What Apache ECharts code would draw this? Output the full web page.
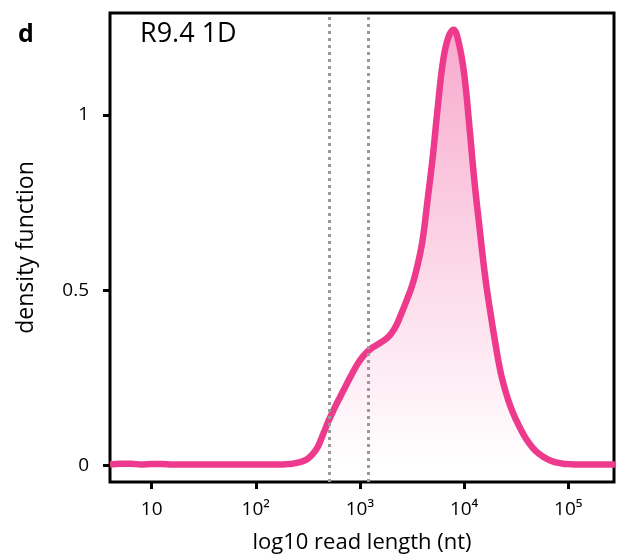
<!DOCTYPE html>
<html><head><meta charset="utf-8">
<script src="https://cdn.jsdelivr.net/npm/echarts@6/dist/echarts.min.js"></script>
<style>html,body{margin:0;padding:0;background:#fff}#c{width:619px;height:554px}</style>
</head><body><div id="c"></div>
<script>
// log10 read length (nt) and density values
const logLength = [0.6,0.7,0.8,0.9,1.0,1.1,1.2,1.3,1.4,1.5,1.6,1.7,1.8,1.9,2.0,2.1,2.2,2.25,
  2.30,2.35,2.40,2.45,2.50,2.55,2.60,2.65,2.70,2.75,2.80,2.85,2.90,2.95,3.00,3.05,3.10,3.15,3.20,3.25,
  3.30,3.35,3.40,3.45,3.50,3.55,3.60,3.65,3.70,3.75,3.80,3.85,3.90,3.95,4.00,4.05,4.10,4.15,4.20,4.25,
  4.30,4.35,4.40,4.45,4.50,4.55,4.60,4.65,4.70,4.75,4.80,4.85,4.90,4.95,5.0,5.1,5.2,5.3,5.45];
const density = [0.003,0.005,0.005,0.003,0.004,0.004,0.003,0.003,0.003,0.003,0.003,0.003,0.003,0.003,0.003,0.003,0.003,0.003,
  0.004,0.005,0.008,0.012,0.020,0.034,0.056,0.092,0.128,0.160,0.190,0.219,0.248,0.276,0.300,0.318,0.332,0.342,0.351,0.361,
  0.376,0.400,0.435,0.472,0.512,0.567,0.640,0.758,0.882,1.030,1.157,1.222,1.243,1.205,1.120,0.972,0.810,0.675,0.545,0.442,
  0.350,0.268,0.210,0.165,0.130,0.100,0.074,0.054,0.038,0.027,0.018,0.012,0.008,0.005,0.004,0.003,0.003,0.003,0.003];
const cutoffs   = [2.707, 3.079];
const xTicks = [1,2,3,4,5];
const xTickLabels = ['10','10²','10³','10⁴','10⁵'];
const yTicks = [0,0.5,1];
const yTickLabels = ['0','0.5','1'];

const FONT = '"Open Sans", Lato, sans-serif';
const chart = echarts.init(document.getElementById('c'), null, {renderer:'canvas'});
chart.setOption({
  animation:false,
  backgroundColor:'#fff',
  grid:{left:110,top:13,right:5,bottom:72,show:true,borderColor:'#000',borderWidth:3,backgroundColor:'transparent',
        containLabel:false,outerBoundsMode:'none'},
  graphic:[
    {type:'text',left:18,top:22,style:{text:'d',fontSize:25,fontWeight:'bold',fontFamily:FONT,fill:'#000'}},
    {type:'text',left:140,top:21,style:{text:'R9.4 1D',fontSize:27,fontFamily:FONT,fill:'#000'}}
  ],
  xAxis:{
    type:'value',min:0.6,max:5.44,
    name:'log10 read length (nt)',nameLocation:'middle',nameGap:50,
    nameTextStyle:{fontSize:22,fontFamily:FONT,color:'#000'},
    axisLine:{show:false,onZero:false},
    splitLine:{show:false},
    axisTick:{show:true,length:7,lineStyle:{color:'#000',width:3},customValues:xTicks},
    axisLabel:{fontSize:19,fontFamily:FONT,color:'#000',margin:18,customValues:xTicks,
      formatter:v=>{const i=xTicks.indexOf(Math.round(v));return i>=0?xTickLabels[i]:'';}}
  },
  yAxis:{
    type:'value',min:-0.047,max:1.291,
    name:'density function',nameLocation:'middle',nameGap:72,nameRotate:90,
    nameTextStyle:{fontSize:23,fontFamily:FONT,color:'#000'},
    axisLine:{show:false,onZero:false},
    splitLine:{show:false},
    axisTick:{show:true,length:7,lineStyle:{color:'#000',width:3},customValues:yTicks},
    axisLabel:{fontSize:19,fontFamily:FONT,color:'#000',margin:21,customValues:yTicks,
      formatter:v=>{const i=yTicks.findIndex(t=>Math.abs(t-v)<1e-6);return i>=0?yTickLabels[i]:'';}}
  },
  series:[{
    type:'line',
    data:logLength.map((x,i)=>[x,density[i]]),
    smooth:0.4,
    showSymbol:false,
    clip:true,
    lineStyle:{color:'#ee3a8c',width:6.5},
    areaStyle:{origin:0,color:new echarts.graphic.LinearGradient(0,0,0,1,[
      {offset:0,color:'rgba(238,58,140,0.62)'},
      {offset:1,color:'rgba(238,58,140,0)'}
    ])},
    markLine:{
      silent:true,symbol:'none',animation:false,
      label:{show:false},
      lineStyle:{color:'#999',width:3,type:[3,4]},
      data:cutoffs.map(c=>({xAxis:c}))
    },
    z:3
  }]
});
</script></body></html>
